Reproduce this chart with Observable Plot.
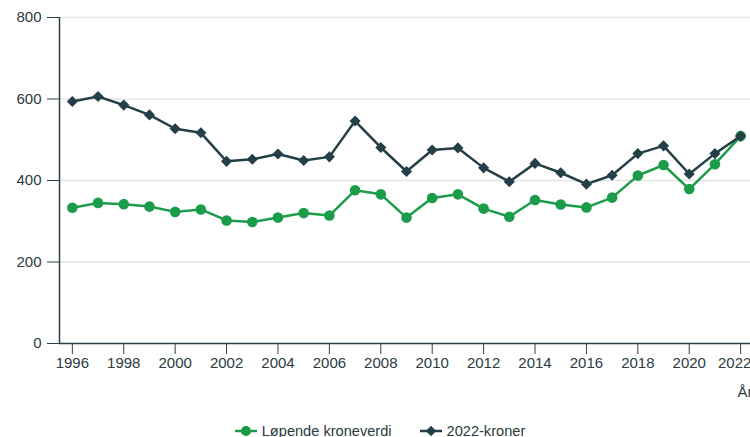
<!DOCTYPE html>
<html>
<head>
<meta charset="utf-8">
<script src="https://cdn.jsdelivr.net/npm/d3@7"></script>
<script src="https://cdn.jsdelivr.net/npm/@observablehq/plot@0.6"></script>
<style>
  html, body { margin: 0; padding: 0; background: #fff; overflow: hidden; width: 750px; height: 437px; }
  #chart { width: 760px; }
  .legend { width: 760px; display: flex; justify-content: center; gap: 28px; margin-top: 13px;
    font-family: "Liberation Sans", Arial, sans-serif; font-size: 14.6px; color: #2b3b40; line-height: 16px; }
  .legend span.item { display: inline-flex; align-items: center; gap: 5px; }
</style>
</head>
<body>
<div id="chart"></div>
<script>
const years = [1996,1997,1998,1999,2000,2001,2002,2003,2004,2005,2006,2007,2008,2009,2010,2011,2012,2013,2014,2015,2016,2017,2018,2019,2020,2021,2022];
const lopende = [333,345,342,336,323,329,302,298,309,320,314,376,366,309,357,366,331,311,352,341,334,358,412,438,379,440,509];
const kroner2022 = [594,606,585,561,527,517,447,452,465,449,458,546,481,422,475,480,431,397,442,419,391,413,466,485,416,466,509];
const seriesNames = ["Løpende kroneverdi", "2022-kroner"];
const seriesColors = ["#1b9c4a", "#253f48"];
const yTicks = [0, 200, 400, 600, 800];
const xTicks = d3.range(1996, 2023, 2);
const xLabel = "År";

const data = [];
years.forEach((y, i) => {
  data.push({year: y, value: lopende[i], series: seriesNames[0]});
  data.push({year: y, value: kroner2022[i], series: seriesNames[1]});
});
const green = data.filter(d => d.series === seriesNames[0]);
const dark = data.filter(d => d.series === seriesNames[1]);
const textColor = "#2b3b40";
const axisColor = "#2e4047";
const lastTick = xTicks[xTicks.length - 1];
const innerTicks = xTicks.slice(0, -1);

const plot = Plot.plot({
  width: 760,
  height: 410,
  marginTop: 17,
  marginLeft: 59,
  marginRight: 7,
  marginBottom: 67,
  style: {fontFamily: "'Liberation Sans', Arial, sans-serif", fontSize: "15px", color: textColor, background: "#fff"},
  x: {domain: [1995.5, 2022.5]},
  y: {domain: [0, 800]},
  marks: [
    Plot.gridY(yTicks, {stroke: "#e4e4e4", strokeOpacity: 1, strokeWidth: 1.5}),
    Plot.axisY({ticks: yTicks, tickSize: 12, tickPadding: 6, stroke: axisColor, fill: textColor, label: null}),
    Plot.axisX({ticks: innerTicks, tickFormat: d => String(d), tickSize: 11, tickPadding: 3, stroke: axisColor, fill: textColor, label: null}),
    Plot.axisX({ticks: [lastTick], tickFormat: d => String(d), tickSize: 11, tickPadding: 3, stroke: axisColor, fill: textColor, label: null, text: null}),
    Plot.axisX({ticks: [lastTick], tickFormat: d => String(d), tickSize: 0, tickPadding: 14, fill: textColor, label: null, dx: -6}),
    Plot.text([xLabel], {frameAnchor: "bottom-right", textAnchor: "start", lineAnchor: "bottom", dx: -16, dy: 53, fill: textColor, fontSize: 15}),
    Plot.ruleY([0], {stroke: axisColor, strokeWidth: 1.5}),
    Plot.ruleX([1995.5], {y1: 0, y2: 800, stroke: axisColor, strokeWidth: 1.5}),
    Plot.line(green, {x: "year", y: "value", stroke: seriesColors[0], strokeWidth: 2.5}),
    Plot.dot(green, {x: "year", y: "value", fill: seriesColors[0], r: 5.3, stroke: "none"}),
    Plot.line(dark, {x: "year", y: "value", stroke: seriesColors[1], strokeWidth: 2.5}),
    Plot.dot(dark, {x: "year", y: "value", fill: seriesColors[1], r: 5, symbol: "diamond2", stroke: "none"})
  ]
});
document.getElementById("chart").appendChild(plot);

// legend
const legend = document.createElement("div");
legend.className = "legend";
seriesNames.forEach((name, i) => {
  const item = document.createElement("span");
  item.className = "item";
  const svg = d3.create("svg").attr("width", 22).attr("height", 12);
  svg.append("line").attr("x1", 0).attr("x2", 22).attr("y1", 6).attr("y2", 6)
    .attr("stroke", seriesColors[i]).attr("stroke-width", 2.5);
  const sym = i === 0 ? d3.symbolCircle : d3.symbolDiamond2;
  svg.append("path").attr("d", d3.symbol(sym, i === 0 ? 80 : 70)()).attr("transform", "translate(11,6)")
    .attr("fill", seriesColors[i]);
  item.appendChild(svg.node());
  const t = document.createElement("span");
  t.textContent = name;
  item.appendChild(t);
  legend.appendChild(item);
});
document.body.appendChild(legend);
</script>
</body>
</html>
